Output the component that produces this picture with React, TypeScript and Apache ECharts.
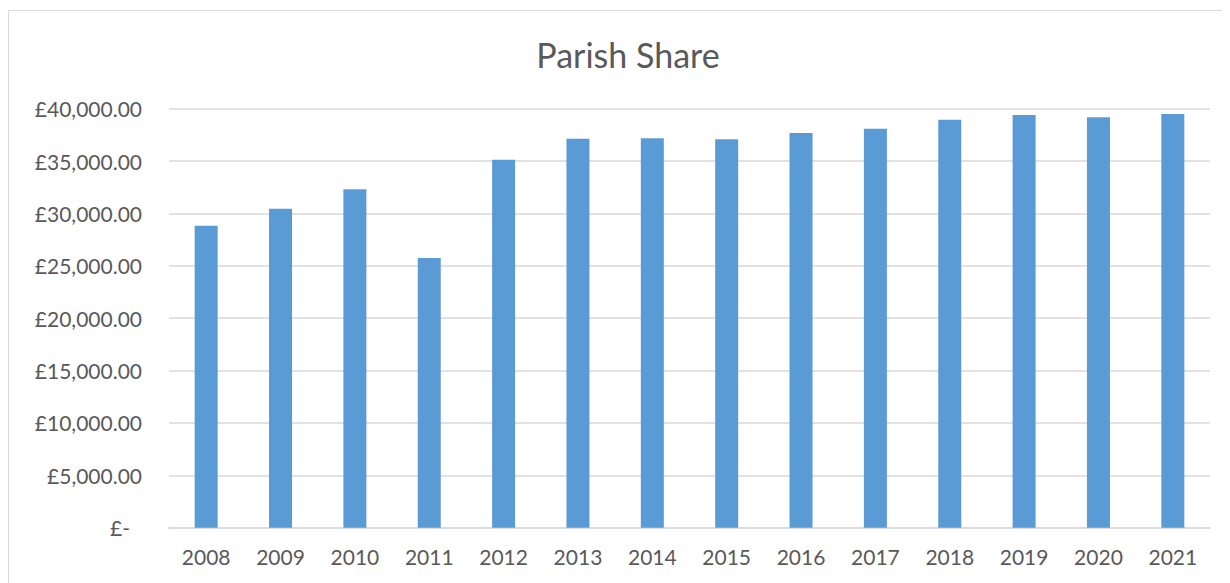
import React, { useEffect, useRef } from "react";
import * as echarts from "echarts";

const years = ["2008", "2009", "2010", "2011", "2012", "2013", "2014", "2015", "2016", "2017", "2018", "2019", "2020", "2021"];
const parishShare = [28830, 30450, 32300, 25750, 35130, 37140, 37170, 37080, 37680, 38090, 38950, 39400, 39180, 39500];
const yTicks = { min: 0, max: 40000, interval: 5000 };
const title = "Parish Share";

const fmt = (v: number) => {
  if (v === 0) return "{z|£-}";
  return "£" + v.toLocaleString("en-GB", { minimumFractionDigits: 2, maximumFractionDigits: 2 });
};

export default function App() {
  const ref = useRef<HTMLDivElement>(null);
  useEffect(() => {
    const chart = echarts.init(ref.current!, undefined, { renderer: "svg" });
    const font = "Lato, 'Open Sans', sans-serif";
    chart.setOption({
      animation: false,
      backgroundColor: "#ffffff",
      graphic: [
        {
          type: "polyline",
          shape: { points: [[0.5, 700], [0.5, 2.5], [1220.5, 2.5], [1220.5, 700]] },
          style: { stroke: "#d9d9d9", lineWidth: 1, fill: null },
          silent: true,
        },
        {
          type: "text",
          x: 620,
          y: 46,
          style: {
            text: title,
            fontFamily: font,
            fontSize: 34,
            fill: "#595959",
            textAlign: "center",
            textVerticalAlign: "middle",
          },
          silent: true,
        },
      ],
      grid: { left: 161, right: 20, top: 100.7, bottom: 55.3, containLabel: false },
      xAxis: {
        type: "category",
        data: years,
        axisLine: { show: true, lineStyle: { color: "#d9d9d9", width: 1.5 } },
        axisTick: { show: false },
        axisLabel: { fontFamily: font, fontSize: 21, color: "#595959", margin: 18 },
      },
      yAxis: {
        type: "value",
        min: yTicks.min,
        max: yTicks.max,
        interval: yTicks.interval,
        axisLine: { show: false },
        axisTick: { show: false },
        splitLine: { lineStyle: { color: "#d9d9d9", width: 1.5 } },
        axisLabel: {
          fontFamily: font,
          fontSize: 21,
          color: "#595959",
          margin: 27,
          formatter: fmt,
          rich: { z: { fontFamily: font, fontSize: 21, color: "#595959", padding: [0, 12, 0, 0] } },
        },
      },
      series: [
        {
          type: "bar",
          data: parishShare,
          barWidth: 23,
          itemStyle: { color: "#5b9bd5" },
        },
      ],
    });
    return () => chart.dispose();
  }, []);
  return <div ref={ref} style={{ width: 1222, height: 575 }} />;
}
